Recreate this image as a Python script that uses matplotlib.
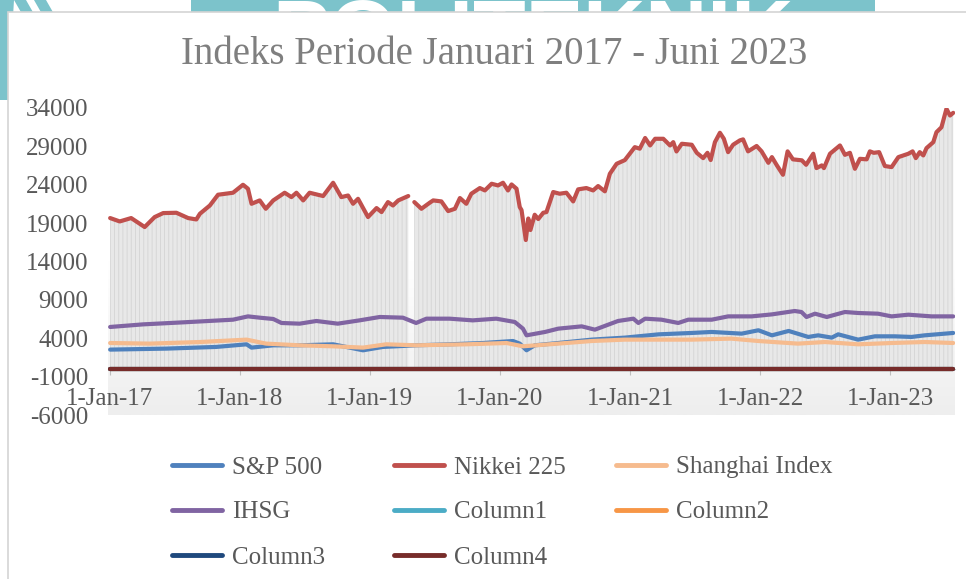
import numpy as np
import pandas as pd
import matplotlib
matplotlib.use("Agg")
import matplotlib.pyplot as plt
from matplotlib.patches import Rectangle, Polygon
from matplotlib.colors import LinearSegmentedColormap

# ---- data ----
nikkei_dates = [
    '2017-01-02', '2017-01-29', '2017-03-02', '2017-04-09', '2017-05-07', '2017-05-31', '2017-07-07',
    '2017-08-09', '2017-09-01', '2017-09-11', '2017-10-09', '2017-11-01', '2017-12-13',
    '2018-01-10', '2018-01-24', '2018-02-03', '2018-02-26', '2018-03-15', '2018-04-05', '2018-05-07',
    '2018-05-26', '2018-06-09', '2018-06-28', '2018-07-16', '2018-08-23', '2018-09-20', '2018-10-13',
    '2018-11-01', '2018-11-15', '2018-11-29', '2018-12-27',
    '2019-01-20', '2019-02-03', '2019-02-21', '2019-03-07', '2019-03-22', '2019-04-19', '2019-04-28',
    '2019-05-06', '2019-05-26', '2019-06-18', '2019-06-28', '2019-07-21', '2019-08-09', '2019-08-28',
    '2019-09-11', '2019-09-29', '2019-10-13', '2019-11-06', '2019-11-20', '2019-12-09', '2019-12-27',
    '2020-01-10', '2020-01-24', '2020-02-03', '2020-02-17', '2020-02-26', '2020-03-02', '2020-03-14',
    '2020-03-21', '2020-03-27', '2020-04-08', '2020-04-18', '2020-05-02', '2020-05-11', '2020-05-30',
    '2020-06-17', '2020-07-06', '2020-07-25', '2020-08-08', '2020-08-31', '2020-09-19', '2020-10-03',
    '2020-10-22', '2020-11-05', '2020-11-24', '2020-12-17',
    '2021-01-14', '2021-01-28', '2021-02-12', '2021-02-26', '2021-03-12', '2021-04-04', '2021-04-23',
    '2021-05-02', '2021-05-11', '2021-05-26', '2021-06-23', '2021-07-07', '2021-07-25', '2021-08-06',
    '2021-08-15', '2021-08-27', '2021-09-10', '2021-09-21', '2021-10-03', '2021-10-17', '2021-11-05',
    '2021-11-14', '2021-11-28', '2021-12-22',
    '2022-01-05', '2022-01-24', '2022-02-03', '2022-02-17', '2022-03-06', '2022-03-19', '2022-04-03',
    '2022-04-28', '2022-05-10', '2022-05-30', '2022-06-08', '2022-06-23', '2022-06-29', '2022-07-16',
    '2022-08-13', '2022-08-27', '2022-09-10', '2022-09-24', '2022-10-08', '2022-10-27', '2022-11-05',
    '2022-11-16', '2022-12-01', '2022-12-17',
    '2023-01-05', '2023-01-24', '2023-02-21', '2023-03-05', '2023-03-14', '2023-03-25', '2023-04-04',
    '2023-04-13', '2023-05-02', '2023-05-11', '2023-05-25', '2023-06-08', '2023-06-18', '2023-06-27']
nikkei = [
    19660, 19220, 19660, 18490, 19790, 20310, 20350, 19660, 19480, 20220, 21300, 22700, 22960,
    24000, 23480, 21520, 21960, 20870, 21960, 22960, 22390, 22960, 21960, 22960, 22530, 24260, 22390,
    22600, 21520, 22170, 19790,
    20960, 20440, 21740, 21300, 21960, 22530, np.nan, 21740, 20870, 21650, 21960, 21830, 20570, 20870,
    22270, 21520, 22830, 23570, 23260, 24130, 23910,
    24260, 23260, 24040, 23480, 21090, 20700, 16800, 19600, 18100, 20090, 19530, 20350, 20440, 23050,
    22830, 22960, 21830, 23400, 23570, 23260, 23830, 23140, 25430, 26730, 27210,
    28900, 28700, 30090, 29120, 29990, 29990, 29120, 29550, 28340, 29340, 29210, 28160, 27470, 28160,
    27220, 29550, 30770, 29990, 28250, 29210, 29780, 29910, 28350, 29050,
    28350, 26860, 27600, 26520, 25300, 28350, 27310, 27180, 26600, 28040, 26170, 26520, 26170, 28040,
    29120, 27900, 28160, 26080, 27380, 27310, 28350, 28160, 28250, 26440,
    26300, 27600, 28040, 28350, 27470, 28250, 27820, 28770, 29550, 30850, 31490, 33900, 33020, 33370]

sp_dates = ['2017-01-02', '2017-06-09', '2017-10-27', '2018-01-20', '2018-02-03', '2018-04-05',
            '2018-06-18', '2018-09-20', '2018-12-13', '2019-02-07', '2019-05-11', '2019-08-13',
            '2019-11-15', '2020-02-07', '2020-02-26', '2020-03-16', '2020-04-08', '2020-06-13',
            '2020-09-15', '2020-12-17', '2021-03-22', '2021-06-23', '2021-08-18', '2021-11-10',
            '2021-12-27', '2022-02-03', '2022-03-22', '2022-05-16', '2022-06-13', '2022-07-21',
            '2022-08-08', '2022-10-03', '2022-11-19', '2023-01-14', '2023-03-02', '2023-04-08',
            '2023-06-27']
sp500 = [2520, 2650, 2870, 3210, 2780, 3080, 3080, 3210, 2430, 2870, 3080, 3210, 3380, 3640, 3300,
         2430, 3080, 3380, 3820, 4080, 4510, 4690, 4820, 4600, 5040, 4380, 4950, 4170, 4380, 4080,
         4510, 3820, 4250, 4250, 4170, 4380, 4690]

sh_dates = ['2017-01-02', '2017-04-23', '2017-09-11', '2018-01-20', '2018-03-16', '2018-06-18',
            '2018-09-20', '2018-12-13', '2019-02-16', '2019-05-11', '2019-09-29', '2020-01-20',
            '2020-03-06', '2020-06-13', '2020-09-15', '2020-12-17', '2021-03-22', '2021-06-23',
            '2021-10-12', '2021-12-27', '2022-04-17', '2022-07-02', '2022-10-03', '2023-01-05',
            '2023-04-08', '2023-06-27']
shanghai = [3380, 3300, 3510, 3820, 3300, 3080, 2950, 2780, 3210, 3080, 3210, 3380, 2950, 3300, 3640,
            3820, 3820, 3820, 3950, 3640, 3300, 3510, 3210, 3380, 3510, 3380]

ihsg_dates = ['2017-01-02', '2017-04-05', '2017-07-25', '2017-12-13', '2018-01-24', '2018-02-26',
              '2018-04-05', '2018-04-28', '2018-06-18', '2018-08-04', '2018-10-03', '2018-12-03',
              '2019-01-29', '2019-04-04', '2019-05-11', '2019-06-09', '2019-08-13', '2019-10-17',
              '2019-12-22', '2020-02-12', '2020-03-06', '2020-03-16', '2020-05-07', '2020-06-13',
              '2020-08-18', '2020-09-24', '2020-11-28', '2021-01-10', '2021-01-24', '2021-02-12',
              '2021-03-30', '2021-05-16', '2021-06-13', '2021-08-18', '2021-10-03', '2021-12-08',
              '2022-02-03', '2022-04-08', '2022-04-27', '2022-05-11', '2022-06-04', '2022-07-07',
              '2022-08-27', '2022-10-03', '2022-11-28', '2023-01-05', '2023-02-21', '2023-04-27',
              '2023-06-27']
ihsg = [5470, 5810, 6070, 6420, 6850, 6680, 6510, 5990, 5900, 6250, 5900, 6330, 6770, 6680, 5990,
        6550, 6550, 6330, 6550, 6120, 5250, 4380, 4820, 5250, 5550, 5120, 6250, 6550, 5990, 6550,
        6420, 5990, 6420, 6420, 6850, 6850, 7110, 7550, 7420, 6770, 7200, 6770, 7420, 7290, 7200,
        6850, 7070, 6850, 6850]

empty_dates = ['2017-01-02', '2023-06-27']
column1 = [0, 0]
column2 = [0, 0]
column3 = [0, 0]
column4 = [0, 0]

yticks = list(range(-6000, 34001, 5000))
xtick_dates = ['2017-01-01', '2018-01-01', '2019-01-01', '2020-01-01', '2021-01-01', '2022-01-01', '2023-01-01']
xtick_labels = ['1-Jan-17', '1-Jan-18', '1-Jan-19', '1-Jan-20', '1-Jan-21', '1-Jan-22', '1-Jan-23']

serif = 'Liberation Serif'
txt_gray = '#595959'
plt.rcParams['font.family'] = [serif, 'DejaVu Serif']
plt.rcParams['hatch.linewidth'] = 0.6

fig = plt.figure(figsize=(9.66, 5.79), dpi=100)

# watermark behind the chart frame
teal = '#7cc3cb'
fig.patches.append(Rectangle((191 / 966, 1 - 14 / 579), (875 - 191) / 966, 14 / 579,
                             transform=fig.transFigure, facecolor=teal, edgecolor='none', zorder=-5))
fig.text(533 / 966, 1 - 60 / 579, 'POLITEKNIK', color='white', fontsize=62, fontweight='bold',
         family='Liberation Sans', ha='center', va='baseline', zorder=-4)
fig.patches.append(Polygon([(0, 1), (14 / 966, 1), (8 / 966, 1 - 100 / 579), (0, 1 - 100 / 579)],
                           closed=True, transform=fig.transFigure, facecolor=teal, edgecolor='none', zorder=-5))
fig.patches.append(Polygon([(14 / 966, 1), (26 / 966, 1), (34 / 966, 1 - 14 / 579), (22 / 966, 1 - 14 / 579)],
                           closed=True, transform=fig.transFigure, facecolor=teal, edgecolor='none', zorder=-5))
fig.patches.append(Polygon([(34 / 966, 1), (46 / 966, 1), (54 / 966, 1 - 14 / 579), (42 / 966, 1 - 14 / 579)],
                           closed=True, transform=fig.transFigure, facecolor=teal, edgecolor='none', zorder=-5))
# white chart frame
fig.patches.append(Rectangle((8 / 966, -0.02), 1.05, 1 - 12 / 579 + 0.02, transform=fig.transFigure,
                             facecolor='white', edgecolor='#d4d4d4', linewidth=1.2, zorder=-3))

ax = fig.add_axes([108 / 966, 1 - 415 / 579, (955 - 108) / 966, (415 - 108) / 579])
ax.set_facecolor('none')

nd = pd.to_datetime(nikkei_dates)
xmin = pd.Timestamp('2016-12-27')
xmax = pd.Timestamp('2023-07-02')

# plot area gradient (white at top, light gray at bottom)
grad = LinearSegmentedColormap.from_list('g', ['#ffffff', '#ffffff', '#eeeeee'])
ax.imshow(np.linspace(0, 1, 256).reshape(-1, 1), cmap=grad, aspect='auto',
          extent=[xmin, xmax, -6000, 34000], origin='upper', zorder=0)

# drop lines under Nikkei
ax.fill_between(nd, 0, nikkei, facecolor='#e8e8e8', edgecolor='#d4d4d4', hatch='||||',
                linewidth=0, zorder=1)

lw = 3.0
ax.plot(pd.to_datetime(sp_dates), sp500, color='#4f81bd', lw=lw, zorder=3, label='S&P 500',
        solid_capstyle='round')
ax.plot(nd, nikkei, color='#c0504d', lw=lw, zorder=3, label='Nikkei 225', solid_capstyle='round')
ax.plot(pd.to_datetime(sh_dates), shanghai, color='#f6bb8e', lw=lw, zorder=3, label='Shanghai Index',
        solid_capstyle='round')
ax.plot(pd.to_datetime(ihsg_dates), ihsg, color='#8064a2', lw=lw, zorder=3, label='IHSG',
        solid_capstyle='round')
ed = pd.to_datetime(empty_dates)
ax.plot(ed, column1, color='#4bacc6', lw=lw, zorder=3, label='Column1', solid_capstyle='round')
ax.plot(ed, column2, color='#f79646', lw=lw, zorder=3, label='Column2', solid_capstyle='round')
ax.plot(ed, column3, color='#1f497d', lw=lw, zorder=3, label='Column3', solid_capstyle='round')
ax.plot(ed, column4, color='#772c2a', lw=lw, zorder=3, label='Column4', solid_capstyle='round')

ax.set_xlim(xmin, xmax)
ax.set_ylim(-6000, 34000)
ax.set_yticks(yticks)
ax.set_yticklabels([str(v) for v in yticks])
ax.set_xticks(pd.to_datetime(xtick_dates))
ax.set_xticklabels(xtick_labels)
ax.tick_params(axis='both', labelsize=18, labelcolor=txt_gray)
ax.tick_params(axis='y', length=0, pad=14)
ax.tick_params(axis='x', length=4, color='#bfbfbf', pad=10)

for s in ['top', 'right', 'left']:
    ax.spines[s].set_visible(False)
ax.spines['bottom'].set_position(('data', 0))
ax.spines['bottom'].set_color('#bfbfbf')

fig.text(494 / 966, 1 - 55 / 579, 'Indeks Periode Januari 2017 - Juni 2023', fontsize=28,
         color='#7f7f7f', ha='center', va='center')

# legend: three columns placed like the original (row-wise order)
handles, labels = ax.get_legend_handles_labels()
col_x = [172, 394, 616]
for c in range(3):
    idx = list(range(c, len(handles), 3))
    leg = fig.legend([handles[i] for i in idx], [labels[i] for i in idx], loc='upper left',
                     bbox_to_anchor=(col_x[c] / 966, 1 - 456 / 579), frameon=False,
                     prop={'size': 18}, labelcolor=txt_gray, handlelength=2.0,
                     handletextpad=0.4, labelspacing=0.9, borderpad=0, borderaxespad=0)
    for line in leg.get_lines():
        line.set_linewidth(3.5)

fig.savefig('out.png', dpi=100)
